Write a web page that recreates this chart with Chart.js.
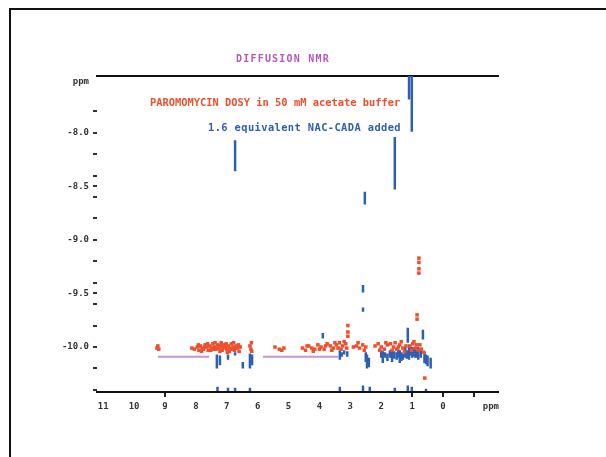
<!DOCTYPE html>
<html>
<head>
  <title>Diffusion NMR</title>
  <style>
    body { margin: 0; background: #fff; font-family: "DejaVu Sans Mono", monospace; }
    #wrap { position: relative; width: 606px; height: 457px; overflow: hidden; }
    #frame { position: absolute; left: 9px; top: 8px; width: 700px; height: 500px;
             border-left: 2px solid #111; border-top: 2px solid #111; }
    canvas { position: absolute; left: 0; top: 0; }
    .txt { position: absolute; font-family: "DejaVu Sans Mono", monospace; font-weight: bold; white-space: nowrap; }
    #title { left: 236px; top: 53px; font-size: 10px; letter-spacing: 1.2px; color: #b458c0; }
    #red { left: 150px; top: 96px; font-size: 10.4px; color: #ee4f2c; }
    #blue { left: 208px; top: 121px; font-size: 10.4px; letter-spacing: 0.4px; color: #2f5fb3; }
  </style>
</head>
<body>
<div id="wrap">
  <div id="frame"></div>
  <canvas id="c" width="606" height="457"></canvas>
  <div class="txt" id="title">DIFFUSION NMR</div>
  <div class="txt" id="red">PAROMOMYCIN DOSY in 50 mM acetate buffer</div>
  <div class="txt" id="blue">1.6 equivalent NAC-CADA added</div>
</div>

<script src="https://cdn.jsdelivr.net/npm/chart.js"></script>
<script>
  // axis ticks (ppm scale runs right to left)
  const xTickVals = [11, 10, 9, 8, 7, 6, 5, 4, 3, 2, 1, 0, -1, -1.55];
  const xTickText = ['11', '10', '9', '8', '7', '6', '5', '4', '3', '2', '1', '0', '', 'ppm'];
  const xTickMarks = [9, 1, 0, -1];
  const yTickVals = [-10.4, -10.2, -10.0, -9.8, -9.6, -9.5, -9.4, -9.2, -9.0, -8.8, -8.6, -8.5, -8.4, -8.2, -8.0, -7.8, -7.52];
  const yTickText = ['', '', '-10.0', '', '', '-9.5', '', '', '-9.0', '', '', '-8.5', '', '', '-8.0', '', 'ppm'];

  // red spectrum: paromomycin alone [ppm, log D]
  const redPoints = [
    [9.23, -9.99], [9.2, -10.02], [9.26, -10.01],
    [8.13, -10.01], [8.05, -10.02], [7.95, -10.0], [7.9, -10.03], [7.85, -9.99], [7.8, -10.01],
    [7.75, -10.02], [7.7, -9.98], [7.65, -10.0], [7.6, -10.03], [7.55, -9.99], [7.5, -10.01],
    [7.45, -9.97], [7.4, -10.0], [7.35, -10.02], [7.3, -9.98], [7.25, -10.01], [7.2, -9.99],
    [7.15, -10.03], [7.1, -9.98], [7.05, -10.0], [7.0, -10.02], [6.95, -9.99], [6.9, -10.01],
    [6.85, -9.97], [6.8, -10.0], [6.75, -10.03], [6.7, -9.99], [6.65, -10.01], [6.6, -10.04], [6.56, -10.0],
    [7.92, -9.98], [7.82, -10.04], [7.72, -10.0], [7.62, -9.97], [7.52, -10.03], [7.42, -10.02],
    [7.32, -10.01], [7.22, -10.04], [7.12, -10.01], [7.02, -9.97], [6.92, -10.04], [6.82, -10.02],
    [6.72, -10.01], [6.62, -9.98], [7.38, -9.96], [7.18, -9.96], [6.98, -10.05], [6.78, -9.96],
    [6.25, -9.99], [6.22, -10.02], [6.19, -10.04], [6.2, -9.96],
    [5.44, -10.0], [5.3, -10.02], [5.22, -10.03], [5.15, -10.01],
    [4.55, -10.01], [4.45, -10.03], [4.35, -9.99], [4.25, -10.01], [4.15, -10.02], [4.05, -9.98],
    [3.95, -10.0], [3.85, -10.02], [3.75, -9.97], [3.65, -9.99], [3.55, -10.01], [3.45, -9.98],
    [3.35, -9.96], [3.25, -9.99], [3.15, -9.97], [3.08, -9.8], [3.08, -9.86], [3.08, -9.9],
    [4.4, -9.99], [4.2, -10.04], [4.0, -10.02], [3.8, -9.99], [3.6, -10.03], [3.5, -9.96],
    [3.4, -10.01], [3.3, -10.02], [3.2, -9.95], [3.12, -10.01],
    [2.9, -10.0], [2.8, -9.99], [2.7, -10.01], [2.6, -9.98], [2.5, -10.0], [2.75, -9.96], [2.55, -10.03],
    [2.2, -9.99], [2.1, -9.97], [2.0, -10.0], [1.9, -10.02], [1.8, -9.98], [2.05, -10.03], [1.85, -9.96],
    [1.7, -9.97], [1.6, -10.0], [1.5, -10.02], [1.4, -9.98], [1.3, -10.01], [1.25, -10.04],
    [1.65, -10.03], [1.55, -9.96], [1.45, -10.0], [1.35, -9.95], [1.2, -9.99],
    [1.07, -9.99], [0.98, -9.97], [0.9, -10.01], [0.84, -9.7], [0.84, -9.74],
    [1.02, -10.03], [0.94, -9.95], [0.86, -9.98], [0.8, -10.03],
    [0.78, -9.17], [0.78, -9.21], [0.78, -9.27], [0.78, -9.31],
    [0.75, -9.98], [0.7, -10.02], [0.62, -10.05], [0.59, -10.29]
  ];

  // blue spectrum: with NAC-CADA, vertical streaks [ppm, from, to]
  const blueSegs = [
    [1.10, -7.47, -7.69], [1.01, -7.47, -7.99], [1.56, -8.04, -8.53], [2.53, -8.55, -8.67], [6.73, -8.07, -8.36],
    [2.59, -9.42, -9.49], [2.59, -9.63, -9.67],
    [7.32, -10.07, -10.2], [7.22, -10.08, -10.17], [6.96, -10.07, -10.12], [6.73, -10.05, -10.08],
    [6.48, -10.14, -10.2], [6.25, -10.06, -10.2], [6.18, -10.07, -10.17],
    [3.89, -9.87, -9.92], [3.34, -10.03, -10.12], [3.28, -10.05, -10.09], [3.2, -10.03, -10.07], [3.1, -10.04, -10.09],
    [2.46, -10.07, -10.2], [2.4, -10.1, -10.19], [2.5, -10.05, -10.14],
    [2.0, -10.03, -10.1], [1.95, -10.04, -10.15], [1.88, -10.05, -10.1], [1.8, -10.06, -10.13],
    [1.72, -10.03, -10.1], [1.65, -10.02, -10.14], [1.58, -10.04, -10.11], [1.5, -10.05, -10.12],
    [1.45, -10.02, -10.1], [1.4, -10.03, -10.15], [1.35, -10.05, -10.13], [1.3, -10.06, -10.12],
    [1.22, -10.0, -10.1], [1.17, -10.03, -10.11],
    [1.14, -9.82, -9.96], [1.1, -9.98, -10.12], [1.05, -10.0, -10.08],
    [1.0, -10.0, -10.1], [0.95, -10.01, -10.09], [0.9, -10.02, -10.1], [0.85, -10.03, -10.1],
    [0.8, -10.0, -10.12], [0.72, -10.03, -10.1], [0.65, -9.84, -9.93],
    [0.6, -10.05, -10.15], [0.55, -10.07, -10.16], [0.5, -10.08, -10.18], [0.4, -10.1, -10.2],
    [7.3, -10.37, -10.41], [6.96, -10.38, -10.41], [6.73, -10.38, -10.41], [6.25, -10.38, -10.41],
    [3.34, -10.37, -10.41], [2.59, -10.36, -10.41], [2.37, -10.37, -10.41], [1.56, -10.38, -10.41],
    [1.14, -10.36, -10.41], [1.01, -10.37, -10.41], [0.55, -10.39, -10.41]
  ];

  // lavender guide lines [ppm from, ppm to, log D]
  const guideLines = [[9.23, 7.57, -10.09], [5.83, 3.4, -10.09]];

  const RED = '#ee4f2c', BLUE = '#2f5fb3', LAV = '#c496d4';
  const X_MIN = -1.78, X_MAX = 11.2, Y_MIN = -10.42, Y_MAX = -7.47;

  const datasets = [];
  datasets.push({
    label: 'alone',
    data: redPoints.map(p => ({ x: p[0], y: p[1] })),
    pointStyle: 'rect', pointRadius: 2.5, pointBorderWidth: 0,
    backgroundColor: RED, borderColor: RED, order: 1
  });
  blueSegs.forEach(s => {
    datasets.push({
      data: [{ x: s[0], y: s[1] }, { x: s[0], y: s[2] }],
      showLine: true, borderColor: BLUE, borderWidth: 2.5, pointRadius: 0, order: 2
    });
  });
  guideLines.forEach(g => {
    datasets.push({
      data: [{ x: g[0], y: g[2] }, { x: g[1], y: g[2] }],
      showLine: true, borderColor: LAV, borderWidth: 2, pointRadius: 0, order: 3
    });
  });

  const tickFont = { family: 'DejaVu Sans Mono', size: 9, weight: 'bold' };

  new Chart(document.getElementById('c'), {
    type: 'scatter',
    data: { datasets },
    options: {
      responsive: false,
      animation: false,
      layout: { padding: { left: 0, right: 108, top: 76, bottom: 0 } },
      plugins: { legend: { display: false }, tooltip: { enabled: false } },
      scales: {
        x: {
          type: 'linear', position: 'bottom', reverse: true, min: X_MIN, max: X_MAX,
          afterBuildTicks: s => { s.ticks = xTickVals.map(v => ({ value: v })); },
          afterFit: s => { s.height = 65; },
          ticks: {
            autoSkip: false, maxRotation: 0, padding: 4, color: '#333', font: tickFont,
            callback: (v, i) => xTickText[i]
          },
          grid: {
            drawOnChartArea: false, tickLength: 5, lineWidth: 2,
            color: c => (c.tick && xTickMarks.includes(c.tick.value)) ? '#222' : 'rgba(0,0,0,0)'
          },
          border: { display: true, color: '#111', width: 2 }
        },
        x2: {
          type: 'linear', position: 'top', reverse: true, min: X_MIN, max: X_MAX, display: true,
          afterFit: s => { s.height = 0; },
          ticks: { display: false },
          grid: { display: false },
          border: { display: true, color: '#111', width: 2 }
        },
        y: {
          type: 'linear', min: Y_MIN, max: Y_MAX,
          afterBuildTicks: s => { s.ticks = yTickVals.map(v => ({ value: v })); },
          afterFit: s => { s.width = 97; },
          ticks: {
            autoSkip: false, padding: 4, color: '#333', font: tickFont,
            callback: (v, i) => yTickText[i]
          },
          grid: {
            drawOnChartArea: false, tickLength: 4, lineWidth: 2,
            color: c => (c.tick && c.tick.value > -7.6) ? 'rgba(0,0,0,0)' : '#333'
          },
          border: { display: false }
        }
      }
    }
  });
</script>
</body>
</html>
